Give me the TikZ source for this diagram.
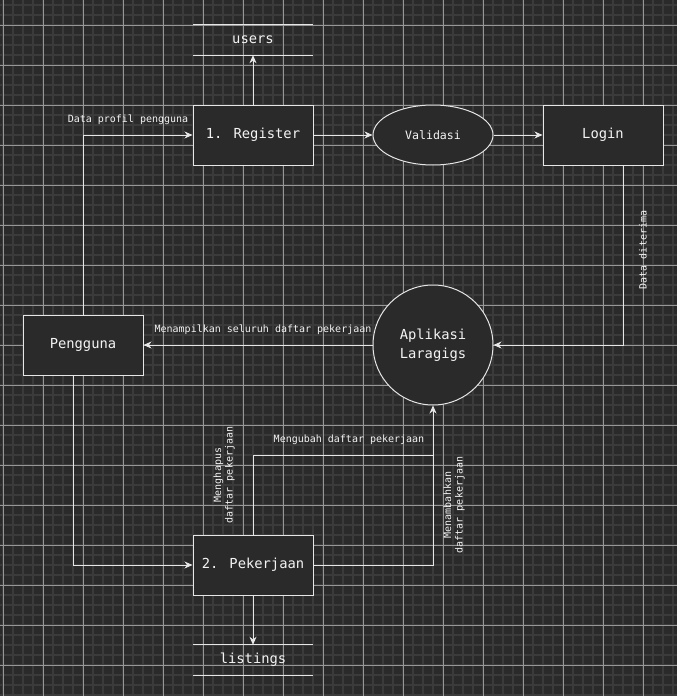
\documentclass[tikz,border=0pt]{standalone}
\usepackage{fontspec}
\setmainfont{DejaVu Sans Mono}
\usetikzlibrary{arrows.meta, shapes.geometric}

\definecolor{canvas}{HTML}{2A2A2A}
\definecolor{minorgrid}{HTML}{3B3B3B}
\definecolor{majorgrid}{HTML}{979797}
\definecolor{ink}{HTML}{E6E6E6}
\definecolor{letter}{HTML}{F4F4F4}

\tikzset{
  proc/.style={rectangle, draw=ink, fill=canvas, line width=1pt, minimum width=120pt, minimum height=60pt, text=letter, font=\fontsize{13.8}{16}\selectfont},
  store/.style={rectangle, minimum width=120pt, minimum height=30pt, text=letter, font=\fontsize{13.8}{16}\selectfont},
  flow/.style={draw=ink, line width=1pt, -{Stealth[length=8pt, width=7pt, inset=2.5pt]}},
  plain/.style={draw=ink, line width=1pt},
  tag/.style={text=letter, font=\fontsize{10}{11.5}\selectfont, inner sep=0pt, align=center},
}

\begin{document}
\begin{tikzpicture}[x=1pt, y=-1pt]

\fill[canvas] (0,0) rectangle (677,696);
\useasboundingbox (0,0) rectangle (677,696);

% grid
\foreach \x in {3,13,...,673} \draw[minorgrid, line width=1.6pt] (\x,0) -- (\x,696);
\foreach \y in {5,15,...,695} \draw[minorgrid, line width=1.6pt] (0,\y) -- (677,\y);
\foreach \x in {3,43,...,643} \draw[majorgrid, line width=0.9pt] (\x,0) -- (\x,696);
\foreach \y in {25,65,...,665} \draw[majorgrid, line width=0.9pt] (0,\y) -- (677,\y);

% stores
\node (users) at (253,40) [store] {users};
\draw[plain] (users.north west) -- (users.north east);
\draw[plain] (users.south west) -- (users.south east);

\node (listings) at (253,660) [store] {listings};
\draw[plain] (listings.north west) -- (listings.north east);
\draw[plain] (listings.south west) -- (listings.south east);

% processes
\node (reg) at (253,135) [proc] {1. Register};
\node (val) at (433,135) [ellipse, draw=ink, fill=canvas, line width=1pt, minimum width=120pt, minimum height=60pt, inner sep=0pt, text=letter, font=\fontsize{11.6}{13}\selectfont] {Validasi};
\node (login) at (603,135) [proc] {Login};
\node (user) at (83,345) [proc] {Pengguna};
\node (app) at (433,345) [circle, draw=ink, fill=canvas, line width=1pt, minimum size=120pt, inner sep=0pt, align=center, text=letter, font=\fontsize{13.8}{19}\selectfont] {Aplikasi\\Laragigs};
\node (pek) at (253,565) [proc] {2. Pekerjaan};

\coordinate (merge) at (433,455);

% connectors
\draw[flow] (reg.north) -- (users.south);
\draw[flow] (reg) -- (val);
\draw[flow] (val) -- (login);
\draw[flow] ([xshift=20pt]login.south) |- (app.east);
\draw[flow] (app) -- (user);
\draw[flow] (user.north) |- (reg.west);
\draw[flow] ([xshift=-10pt]user.south) |- (pek.west);
\draw[flow] (pek.east) -| (app.south);
\draw[plain] (pek.north) |- (merge);
\draw[flow] (pek.south) -- (listings.north);

% labels
\node (lprofil) at (128,120) [tag] {Data profil pengguna};
\node (lterima) at (643,250) [tag, rotate=90] {Data diterima};
\node (ltampil) at (263,330) [tag] {Menampilkan seluruh daftar pekerjaan};
\node (lubah) at (349,440) [tag] {Mengubah daftar pekerjaan};
\node (lhapus) at (224,475) [tag, rotate=90] {Menghapus\\daftar pekerjaan};
\node (ltambah) at (454,505) [tag, rotate=90] {Menambahkan\\daftar pekerjaan};

\end{tikzpicture}
\end{document}
